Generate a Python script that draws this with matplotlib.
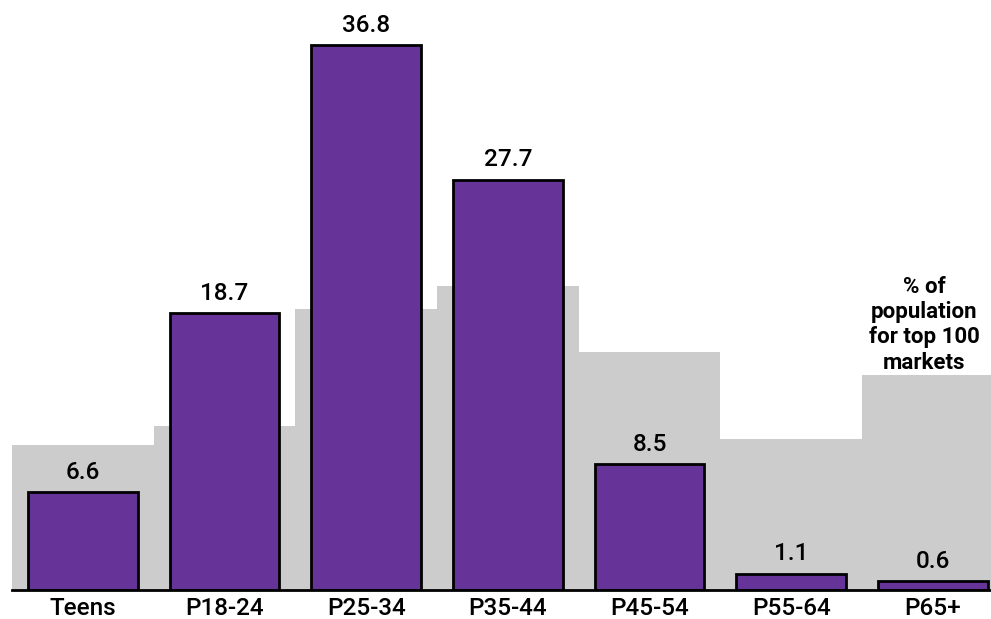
import matplotlib
matplotlib.use("Agg")
import matplotlib.pyplot as plt

plt.rcParams['font.family'] = ['Roboto', 'DejaVu Sans']

categories = ['Teens', 'P18-24', 'P25-34', 'P35-44', 'P45-54', 'P55-64', 'P65+']
share = [6.6, 18.7, 36.8, 27.7, 8.5, 1.1, 0.6]
population = [9.8, 11.1, 19.0, 20.5, 16.1, 10.2, 14.5]

purple = '#663399'
grey = '#cccccc'

fig = plt.figure(figsize=(9.91, 6.19), dpi=100)
ax = fig.add_axes([12 / 991, 29 / 619, 1 - 12 / 991, 1 - 29 / 619])

x = list(range(len(categories)))
ax.bar(x, population, width=1.0, color=grey, linewidth=0, zorder=1)
bars = ax.bar(x, share, width=0.775, color=purple, edgecolor='black',
              linewidth=2, zorder=2)

for b, v in zip(bars, share):
    ax.annotate('%.1f' % v, (b.get_x() + b.get_width() / 2, v),
                xytext=(0, 6), textcoords='offset points',
                ha='center', va='bottom', fontsize=17.5, fontweight='medium',
                color='black')

ax.text(6 - 0.06, population[-1] + 0.1, '% of\npopulation\nfor top 100\nmarkets',
        ha='center', va='bottom', fontsize=16, fontweight='bold',
        linespacing=1.2)

ax.set_xlim(-0.5, 6.41)
ax.set_ylim(0, 39.84)
ax.set_xticks(x)
ax.set_xticklabels(categories, fontsize=17.5, fontweight='medium')
ax.tick_params(axis='x', length=0, pad=5)
ax.set_yticks([])
for s in ['top', 'right', 'left']:
    ax.spines[s].set_visible(False)
ax.spines['bottom'].set_linewidth(2)
ax.spines['bottom'].set_zorder(3)

fig.savefig('out.png', dpi=100)
